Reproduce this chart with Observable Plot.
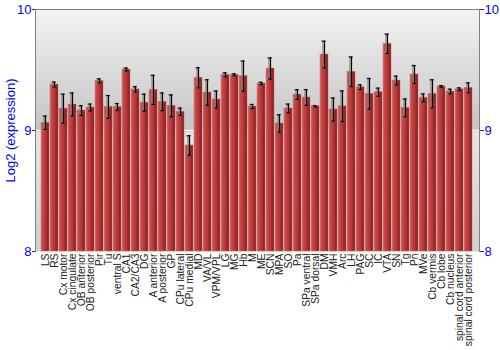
<!DOCTYPE html>
<html><head><meta charset="utf-8">
<script src="https://cdn.jsdelivr.net/npm/d3@7"></script>
<script src="https://cdn.jsdelivr.net/npm/@observablehq/plot@0.6"></script>
<style>body{margin:0;background:#fff;font-family:"Liberation Sans",Arial,sans-serif}</style>
</head><body><div id="chart"></div>
<script>
const regions = ["LS","RS","Cx motor","Cx cingulate","OB anterior","OB posterior","Pir","Tu","ventral S","CA1","CA2/CA3","DG","A anterior","A posterior","GP","CPu lateral","CPu medial","MD","VA/VL","VPM/VPL","LG","MG","Hb","M","ME","SCN","MPA","SO","Pa","SPa ventral","SPa dorsal","DM","VMH","Arc","LH","PAG","SC","IC","VTA","SN","Tg","Pn","MVe","Cb vermis","Cb lobe","Cb nucleus","spinal cord anterior","spinal cord posterior"];
const means = [9.064,9.38,9.18,9.215,9.165,9.19,9.41,9.195,9.195,9.504,9.34,9.23,9.336,9.237,9.204,9.155,8.876,9.436,9.314,9.256,9.46,9.46,9.45,9.198,9.388,9.512,9.058,9.182,9.297,9.273,9.2,9.628,9.174,9.2,9.485,9.358,9.303,9.317,9.716,9.413,9.187,9.463,9.27,9.303,9.364,9.322,9.341,9.353];
const errors = [0.055,0.02,0.12,0.095,0.04,0.028,0.017,0.094,0.028,0.012,0.022,0.07,0.12,0.073,0.09,0.03,0.08,0.083,0.105,0.07,0.017,0.008,0.124,0.017,0.01,0.088,0.072,0.036,0.04,0.065,0.006,0.11,0.095,0.127,0.122,0.019,0.127,0.033,0.08,0.036,0.073,0.074,0.032,0.116,0.007,0.019,0.011,0.041];
const yTicks = [8, 9, 10];

const data = regions.map((r, i) => ({region: r, mean: means[i], lo: means[i] - errors[i], hi: means[i] + errors[i]}));

const chart = Plot.plot({
  width: 500, height: 350,
  marginLeft: 35, marginRight: 21, marginTop: 9, marginBottom: 99,
  style: {fontFamily: "Liberation Sans, Arial, sans-serif", background: "white"},
  x: {domain: regions, padding: 0.1},
  y: {domain: [8, 10]},
  marks: [
    Plot.frame({fill: "url(#bgGrad)", stroke: "none"}),
    Plot.ruleY([9], {stroke: "#f6f6f6", strokeWidth: 1.5}),
    Plot.barY(data, {x: "region", y1: 8, y2: "mean", fill: "url(#barGrad)", stroke: "#d07070", strokeOpacity: 0.6, strokeWidth: 0.8}),
    Plot.ruleX(data, {x: "region", y1: "lo", y2: "hi", stroke: "#888", strokeWidth: 1.6, dx: -1.5, strokeOpacity: 0.8}),
    Plot.tickY(data, {x: "region", y: "hi", stroke: "#888", strokeWidth: 1.5, insetLeft: 2, insetRight: 3, dx: -1, strokeOpacity: 0.8}),
    Plot.tickY(data, {x: "region", y: "lo", stroke: "#888", strokeWidth: 1.5, insetLeft: 2, insetRight: 3, dx: -1, strokeOpacity: 0.8}),
    Plot.ruleX(data, {x: "region", y1: "lo", y2: "hi", stroke: "#000", strokeWidth: 1.2}),
    Plot.tickY(data, {x: "region", y: "hi", stroke: "#000", strokeWidth: 1.2, insetLeft: 2.3, insetRight: 2.3}),
    Plot.tickY(data, {x: "region", y: "lo", stroke: "#000", strokeWidth: 1.2, insetLeft: 2.3, insetRight: 2.3}),
    Plot.frame({stroke: "#808080", anchor: "top"}),
    Plot.frame({stroke: "#808080", anchor: "left"}),
    Plot.frame({stroke: "#808080", anchor: "right"}),
    Plot.axisY({anchor: "left", ticks: yTicks, tickFormat: d => String(d), tickSize: 3, tickPadding: 1, fontSize: 13, fill: "blue", stroke: "#333",
      label: "Log2 (expression)", labelAnchor: "center", labelArrow: "none", labelOffset: 30}),
    Plot.axisY({anchor: "right", ticks: yTicks, tickFormat: d => String(d), tickSize: 4, tickPadding: 1, fontSize: 13, fill: "blue", stroke: "#333", label: null}),
    Plot.axisX({tickRotate: -90, tickSize: 0, tickPadding: 2, fontSize: 10.3, fill: "#222", label: null})
  ]
});

const svg = d3.select(chart);
const defs = svg.insert("defs", ":first-child");
const bg = defs.append("linearGradient").attr("id", "bgGrad").attr("x1", 0).attr("y1", 0).attr("x2", 0).attr("y2", 1);
bg.append("stop").attr("offset", "0%").attr("stop-color", "#f3f3f3");
bg.append("stop").attr("offset", "50%").attr("stop-color", "#c4c4c4");
bg.append("stop").attr("offset", "51%").attr("stop-color", "#e4e4e4");
bg.append("stop").attr("offset", "100%").attr("stop-color", "#cfcfcf");
const bar = defs.append("linearGradient").attr("id", "barGrad").attr("x1", 0).attr("y1", 0).attr("x2", 1).attr("y2", 0);
bar.append("stop").attr("offset", "0%").attr("stop-color", "#d46a6a");
bar.append("stop").attr("offset", "20%").attr("stop-color", "#c84646");
bar.append("stop").attr("offset", "60%").attr("stop-color", "#b33434");
bar.append("stop").attr("offset", "100%").attr("stop-color", "#7c1818");
svg.selectAll("g[aria-label='y-axis label'] text, g[aria-label='y-axis label']").attr("fill", "blue");
document.getElementById("chart").appendChild(chart);
</script></body></html>
